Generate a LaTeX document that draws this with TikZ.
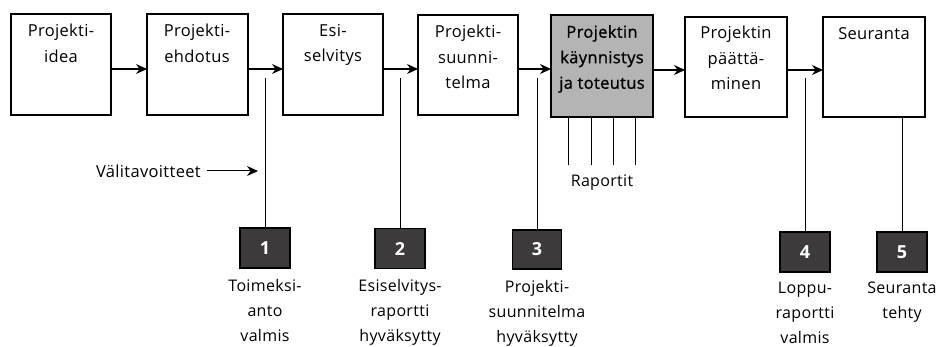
\documentclass[tikz,border=0pt]{standalone}
\usepackage{fontspec}
\setmainfont{Open Sans}[LetterSpace=2]
\newfontfamily\semib[LetterSpace=2, BoldFont={Open Sans}, BoldFeatures={FakeBold=1}]{Open Sans}
\usetikzlibrary{arrows.meta}
\definecolor{greybox}{HTML}{B4B4B4}
\definecolor{milefill}{HTML}{3C3A3A}
\tikzset{
  phase/.style={draw=black, line width=1.6pt, fill=white},
  active/.style={draw=black, line width=1.6pt, fill=greybox},
  boxtext/.style={anchor=north, align=center, inner sep=0pt, font=\fontsize{16.5}{25.5}\selectfont},
  flow/.style={line width=1.1pt, -{Stealth[length=11pt,width=10pt]}},
  stem/.style={line width=1pt},
  mile/.style={draw=black, line width=1.2pt, fill=milefill, text=white, font=\fontsize{18}{20}\selectfont\bfseries},
  miletext/.style={anchor=north, align=center, inner sep=0pt, font=\fontsize{16}{25}\selectfont}
}
\begin{document}
\begin{tikzpicture}[x=1pt,y=-1pt]
\useasboundingbox (0,0) rectangle (939,347);
% phase boxes
\path[phase] (11,14) rectangle (111,115);
\path[phase] (147,14) rectangle (248,115);
\path[phase] (283,14) rectangle (383,115);
\path[phase] (418,15) rectangle (518,115);
\path[active] (551,15) rectangle (653,117);
\path[phase] (685,17) rectangle (787,117);
\path[phase] (823,17) rectangle (925,117);
\coordinate (b1r) at (111,69); \coordinate (b2l) at (147,69);
\coordinate (b2r) at (248,69); \coordinate (b3l) at (283,69);
\coordinate (b3r) at (383,69); \coordinate (b4l) at (418,69);
\coordinate (b4r) at (518,69); \coordinate (b5l) at (551,69);
\coordinate (b5r) at (653,70); \coordinate (b6l) at (685,70);
\coordinate (b6r) at (787,70); \coordinate (b7l) at (823,70);
\node[boxtext] (t1) at (61,24) {Projekti-\\idea};
\node[boxtext] (t2) at (197,24) {Projekti-\\ehdotus};
\node[boxtext] (t3) at (333,24) {Esi-\\selvitys};
\node[boxtext] (t4) at (468,25) {Projekti-\\suunni-\\telma};
\node[boxtext, font=\fontsize{16.5}{25.5}\selectfont\semib\bfseries] (t5) at (602,25) {Projektin\\käynnistys\\ja toteutus};
\node[boxtext] (t6) at (736,26) {Projektin\\päättä-\\minen};
\node[boxtext] (t7) at (874,27) {Seuranta};
% flow arrows
\draw[flow] (b1r) -- (b2l);
\draw[flow] (b2r) -- (b3l);
\draw[flow] (b3r) -- (b4l);
\draw[flow] (b4r) -- (b5l);
\draw[flow] (b5r) -- (b6l);
\draw[flow] (b6r) -- (b7l);
% milestones
\node[mile, minimum width=50pt, minimum height=40pt] (m1) at (265,248) {1};
\node[mile, minimum width=50pt, minimum height=40pt] (m2) at (400,248.5) {2};
\node[mile, minimum width=49pt, minimum height=39pt] (m3) at (537,249.5) {3};
\node[mile, minimum width=50pt, minimum height=40pt] (m4) at (805,252) {4};
\node[mile, minimum width=50pt, minimum height=40pt] (m5) at (902,252) {5};
\coordinate (s1) at (265,78);
\coordinate (s2) at (400,78);
\coordinate (s3) at (537,78);
\coordinate (s4) at (805,78);
\coordinate (s5) at (902,117);
\draw[stem] (s1) -- (m1.north);
\draw[stem] (s2) -- (m2.north);
\draw[stem] (s3) -- (m3.north);
\draw[stem] (s4) -- (m4.north);
\draw[stem] (s5) -- (m5.north);
\node[miletext] (l1) at (265,279) {Toimeksi-\\anto\\valmis};
\node[miletext] (l2) at (400,279) {Esiselvitys-\\raportti\\hyväksytty};
\node[miletext] (l3) at (537,280) {Projekti-\\suunnitelma\\hyväksytty};
\node[miletext] (l4) at (805,282) {Loppu-\\raportti\\valmis};
\node[miletext] (l5) at (902,282) {Seuranta\\tehty};
% reports
\foreach \x/\n in {568/r1,591/r2,613/r3,635/r4}{
  \coordinate (\n a) at (\x,117);
  \coordinate (\n b) at (\x,165);
  \draw[stem] (\n a) -- (\n b);
}
\node[miletext] (rap) at (602,175) {Raportit};
% Välitavoitteet
\node[anchor=east, inner sep=0pt, font=\fontsize{16.5}{20}\selectfont] (val) at (201,171) {Välitavoitteet};
\coordinate (valend) at (258,171);
\draw[flow, line width=1pt] (val.east) ++(6,0) coordinate (valst) -- (valend);
\end{tikzpicture}
\end{document}
